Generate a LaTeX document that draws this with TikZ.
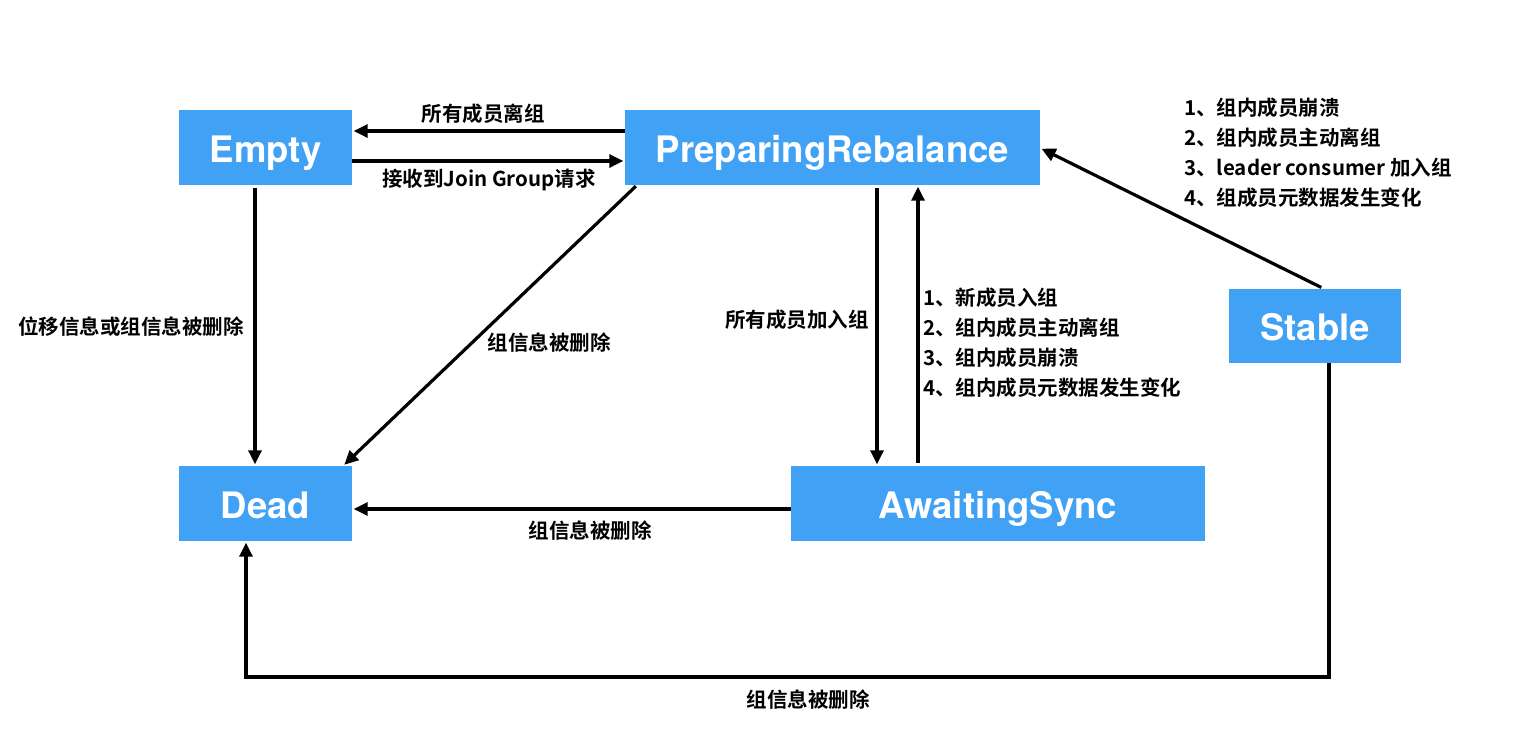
\documentclass[tikz,border=0pt]{standalone}
\usepackage{fontspec}
\setmainfont{TeX Gyre Heros}
\newfontfamily\cjk{Noto Sans CJK SC}[BoldFont=* Bold]
\usetikzlibrary{arrows.meta,calc}
\definecolor{boxblue}{RGB}{64,161,245}
\begin{document}
\begin{tikzpicture}[x=1pt,y=-1pt,
  state/.style={fill=boxblue,draw=none,text=white,font=\fontsize{36.5}{40}\selectfont\bfseries,inner sep=0pt,minimum height=75pt,text height=36pt,text depth=7pt},
  arr/.style={line width=3.2pt,-{Triangle[length=14pt,width=13pt]},shorten >=1.5pt},
  lbl/.style={font=\cjk\fontsize{20.5}{24}\selectfont\bfseries,inner sep=0pt,text=black},
  lst/.style={lbl,align=left,font=\cjk\fontsize{20.5}{30}\selectfont\bfseries}]
\useasboundingbox (0,0) rectangle (1526,748);
\node[state,minimum width=173pt] (empty) at (265.5,147.5) {Empty};
\node[state,minimum width=415pt] (prep) at (832.5,147.5) {PreparingRebalance};
\node[state,minimum width=173pt] (dead) at (265.5,503.5) {Dead};
\node[state,minimum width=414pt] (await) at (998,503.5) {AwaitingSync};
\node[state,minimum width=172pt,minimum height=74pt] (stable) at (1315,326) {Stable};
\coordinate (corner) at (800,677);
% connectors
\draw[arr] ([yshift=16.5pt]prep.west) -- ([yshift=16.5pt]empty.east);
\draw[arr] ([yshift=-13.5pt]empty.east) -- ([yshift=-13.5pt]prep.west);
\draw[arr,shorten <=3pt] ([xshift=-10.5pt]empty.south) -- ([xshift=-10.5pt]dead.north);
\draw[arr] ([xshift=11pt,yshift=-1pt]prep.south west) -- ([xshift=-9pt]dead.north east);
\draw[arr,shorten <=3pt] ([xshift=44.5pt]prep.south) -- ([xshift=-121pt]await.north);
\draw[arr,shorten <=3pt] ([xshift=-80pt]await.north) -- ([xshift=85.5pt]prep.south);
\draw[arr] ([yshift=-5.5pt]await.west) -- ([yshift=-5.5pt]dead.east);
\draw[arr,shorten <=3pt] ([xshift=9pt]stable.north) -- ([yshift=-0.5pt]prep.east);
\draw[arr] ([xshift=14pt]stable.south) |- (corner) -| ([xshift=-19.5pt]dead.south);
% labels
\node[lbl] (l1) at (483,114) {所有成员离组};
\node[lbl] (l2) at (489,180) {接收到Join Group请求};
\node[lbl] (l3) at (131,327) {位移信息或组信息被删除};
\node[lbl] (l4) at (549,343) {组信息被删除};
\node[lbl] (l5) at (797,320) {所有成员加入组};
\node[lbl] (l6) at (590,531) {组信息被删除};
\node[lbl] (l7) at (808,700) {组信息被删除};
\node[lst,anchor=north west] (l8) at (923,288) {1、新成员入组\\2、组内成员主动离组\\3、组内成员崩溃\\4、组内成员元数据发生变化};
\node[lst,anchor=north west] (l9) at (1184,98) {1、组内成员崩溃\\2、组内成员主动离组\\3、leader consumer 加入组\\4、组成员元数据发生变化};
\end{tikzpicture}
\end{document}
